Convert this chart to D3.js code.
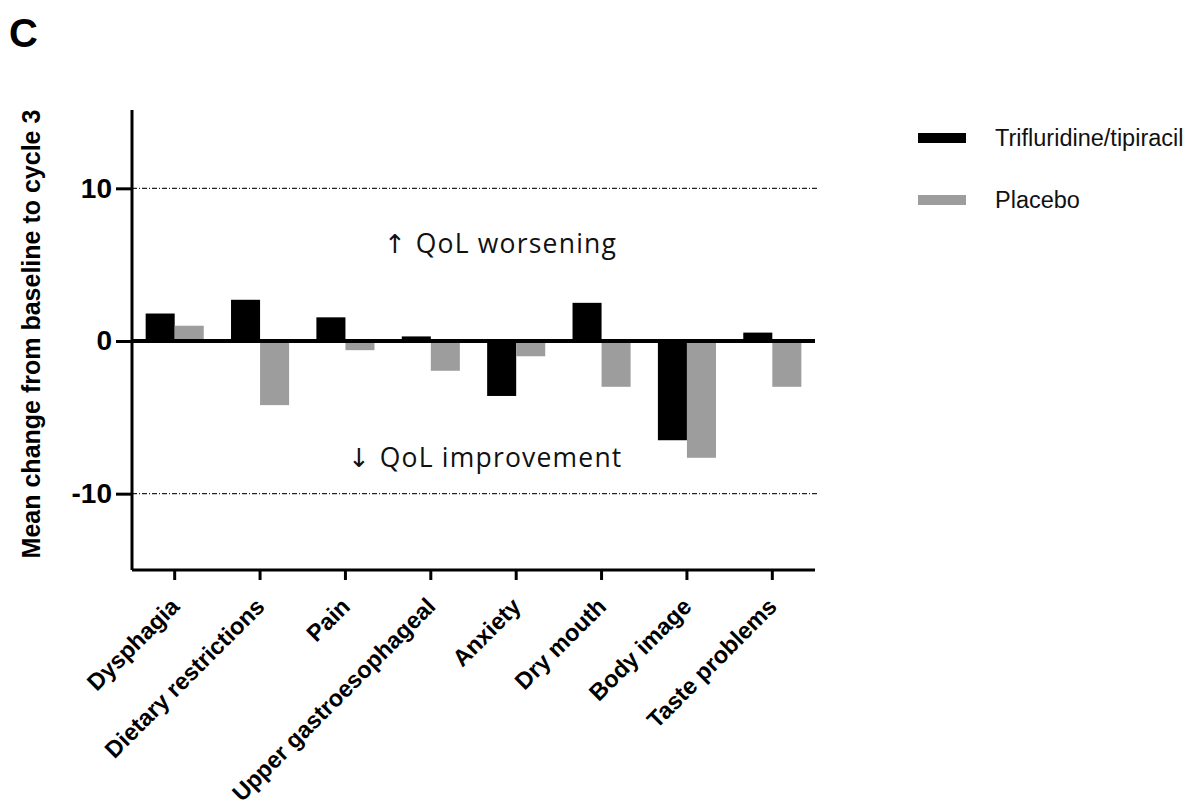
<!DOCTYPE html>
<html>
<head>
<meta charset="utf-8">
<script src="https://cdn.jsdelivr.net/npm/d3@7"></script>
<style>
  body { margin: 0; background: #fff; }
  svg { display: block; }
</style>
</head>
<body>
<div class="chart"></div>
<script>
const categories = ["Dysphagia", "Dietary restrictions", "Pain", "Upper gastroesophageal",
  "Anxiety", "Dry mouth", "Body image", "Taste problems"];
const seriesNames = ["Trifluridine/tipiracil", "Placebo"];
const trifluridine = [1.8, 2.7, 1.55, 0.3, -3.6, 2.5, -6.5, 0.55];
const placebo = [1.0, -4.2, -0.6, -1.95, -1.0, -3.0, -7.65, -3.0];
const yTicks = [-10, 0, 10];
const colors = ["#000000", "#9d9d9d"];

const data = categories.map((c, i) => ({
  category: c,
  values: [
    { series: seriesNames[0], value: trifluridine[i] },
    { series: seriesNames[1], value: placebo[i] }
  ]
}));

const svg = d3.select(".chart")
  .append("svg")
    .attr("width", 1192)
    .attr("height", 811);

const xScale = d3.scaleBand()
  .domain(categories)
  .range([132, 815])
  .paddingInner(0)
  .paddingOuter(0);

const xSub = d3.scaleBand()
  .domain(seriesNames)
  .range([0, xScale.bandwidth()])
  .paddingInner(0)
  .paddingOuter(0.47);

const yScale = d3.scaleLinear()
  .domain([-15, 15])
  .range([570, 112]);

// panel letter
svg.append("text")
  .text("C")
  .attr("x", 9)
  .attr("y", 47)
  .style("font-family", "Liberation Sans, Arial, sans-serif")
  .style("font-weight", "bold")
  .style("font-size", "40px");

// dotted reference lines at +/-10
svg.selectAll("line.ref")
  .data([10, -10])
  .join("line")
    .attr("class", "ref")
    .attr("x1", 132)
    .attr("x2", 818)
    .attr("y1", d => yScale(d))
    .attr("y2", d => yScale(d))
    .attr("stroke", "#222")
    .attr("stroke-width", 1.4)
    .attr("stroke-dasharray", "5,2,1,2");

// bars
const group = svg.selectAll("g.cat")
  .data(data)
  .join("g")
    .attr("class", "cat")
    .attr("transform", d => `translate(${xScale(d.category)}, 0)`);

group.selectAll("rect")
  .data(d => d.values)
  .join("rect")
    .attr("x", d => xSub(d.series))
    .attr("width", xSub.bandwidth())
    .attr("y", d => yScale(Math.max(0, d.value)))
    .attr("height", d => Math.abs(yScale(d.value) - yScale(0)))
    .attr("fill", (d, i) => colors[i]);

// zero line
svg.append("line")
  .attr("x1", 132)
  .attr("x2", 815)
  .attr("y1", yScale(0))
  .attr("y2", yScale(0))
  .attr("stroke", "#000")
  .attr("stroke-width", 4);

// y axis
const yAxis = svg.append("g")
  .attr("transform", "translate(132, 0)")
  .call(d3.axisLeft(yScale).tickValues(yTicks).tickSize(16).tickPadding(4).tickFormat(d => String(d)));

yAxis.select(".domain")
  .attr("d", `M0,110V${yScale(-15)}`)
  .attr("stroke-width", 3);
yAxis.selectAll(".tick line").attr("stroke-width", 3);
yAxis.selectAll(".tick text")
  .style("font-family", "Liberation Sans, Arial, sans-serif")
  .style("font-weight", "bold")
  .style("font-size", "28px")
  .attr("fill", "#000");

// x axis
const xAxis = svg.append("g")
  .attr("transform", `translate(0, ${yScale(-15)})`)
  .call(d3.axisBottom(xScale).tickSize(10).tickSizeOuter(0));

xAxis.select(".domain")
  .attr("d", "M132,0H815")
  .attr("stroke-width", 3);
xAxis.selectAll(".tick line").attr("stroke-width", 3);
xAxis.selectAll(".tick text")
  .attr("text-anchor", "end")
  .attr("transform", "translate(6, 38) rotate(-45)")
  .attr("y", 0)
  .attr("dy", 0)
  .style("font-family", "Liberation Sans, Arial, sans-serif")
  .style("font-weight", "bold")
  .style("font-size", "23.5px")
  .attr("fill", "#000");

// y axis title
svg.append("text")
  .text("Mean change from baseline to cycle 3")
  .attr("transform", "translate(40, 334) rotate(-90)")
  .attr("text-anchor", "middle")
  .style("font-family", "Liberation Sans, Arial, sans-serif")
  .style("font-weight", "bold")
  .style("font-size", "25px");

// annotations
const notes = [
  { arrow: "\u2191", label: "QoL worsening", x: 384, y: 253 },
  { arrow: "\u2193", label: "QoL improvement", x: 348, y: 467 }
];

const note = svg.selectAll("text.note")
  .data(notes)
  .join("text")
    .attr("class", "note")
    .attr("x", d => d.x)
    .attr("y", d => d.y)
    .style("font-family", "Open Sans, sans-serif")
    .style("font-size", "26.5px")
    .attr("fill", "#111");

note.append("tspan")
  .text(d => d.arrow)
  .style("font-family", "DejaVu Sans, sans-serif")
  .style("font-size", "26px");

note.append("tspan")
  .text(d => d.label)
  .attr("dx", 10)
  .style("letter-spacing", "1.2px");

// legend
const legend = svg.selectAll("g.legend")
  .data(seriesNames)
  .join("g")
    .attr("class", "legend")
    .attr("transform", (d, i) => `translate(918, ${138 + i * 62})`);

legend.append("rect")
  .attr("x", 0)
  .attr("y", -5)
  .attr("width", 48)
  .attr("height", 10)
  .attr("fill", (d, i) => colors[i]);

legend.append("text")
  .text(d => d)
  .attr("x", 77)
  .attr("y", 8)
  .style("font-family", "Liberation Sans, Arial, sans-serif")
  .style("font-size", "23.5px")
  .attr("fill", "#111");
</script>
</body>
</html>
